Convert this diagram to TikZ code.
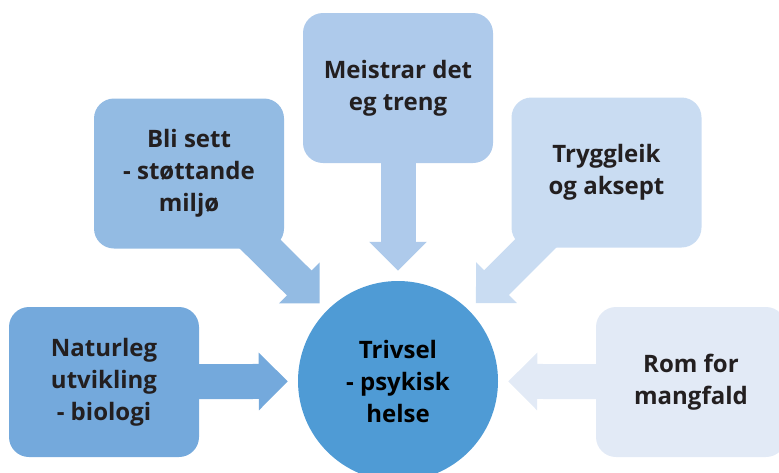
\documentclass[tikz,border=0pt]{standalone}
\usepackage{fontspec}
\setmainfont{Open Sans}
\usepackage{xcolor}
\usepackage{tikz}
\usetikzlibrary{arrows.meta,backgrounds}

\definecolor{txt}{HTML}{231F20}
\definecolor{cblue}{HTML}{4F9BD5}
\definecolor{bnat}{HTML}{74A9DC}
\definecolor{bsett}{HTML}{93BBE3}
\definecolor{bmeis}{HTML}{AECAEB}
\definecolor{btryg}{HTML}{C9DCF2}
\definecolor{brom}{HTML}{E2EAF6}

\begin{document}
\begin{tikzpicture}[x=1pt,y=-1pt,
  box/.style={rounded corners=20pt,minimum width=190pt,minimum height=150pt,inner sep=0pt,
    align=center,text=txt,font=\fontsize{24}{32}\selectfont\bfseries},
  blk/.style={line width=35pt,-{Triangle[width=56pt,length=29pt]},shorten >=10pt}]
  \useasboundingbox (0,0) rectangle (779,472);
  % centre
  \node[circle,fill=cblue,minimum size=200pt,inner sep=0pt,align=center,text=black,
    font=\fontsize{24}{32}\selectfont\bfseries] (trivsel) at (398,381) {Trivsel\\- psykisk\\helse};
  % boxes
  \node[box,fill=bnat] (natur) at (104,382) {Naturleg\\utvikling\\- biologi};
  \node[box,fill=bsett] (sett) at (189,173.5) {Bli sett\\- støttande\\miljø};
  \node[box,fill=bmeis] (meis) at (398,88) {Meistrar det\\eg treng};
  \node[box,fill=btryg] (tryg) at (606.5,172.5) {Tryggleik\\og aksept};
  \node[box,fill=brom] (rom) at (691,382) {Rom for\\mangfald};
  % arrows
  \begin{scope}[on background layer]
    \draw[blk,bnat] (natur.center) -- (trivsel);
    \draw[blk,bsett] (sett.center) -- (trivsel);
    \draw[blk,bmeis] (meis.center) -- (trivsel);
    \draw[blk,btryg] (tryg.center) -- (trivsel);
    \draw[blk,brom] (rom.center) -- (trivsel);
  \end{scope}
\end{tikzpicture}
\end{document}
